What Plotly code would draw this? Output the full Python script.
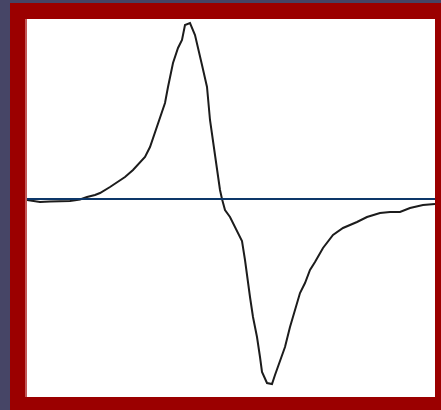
import plotly.graph_objects as go

# Signal trace (x: channel, y: amplitude relative to baseline)
px = [27, 40, 50, 60, 70, 80, 87, 95, 100, 110, 117, 125, 133, 140, 145, 150, 155, 160, 165, 168,
      173, 178, 182, 185, 190, 195, 198, 202, 207, 210, 215, 218, 220, 222, 225, 230, 235, 238, 242,
      245, 247, 250, 253, 257, 260, 262, 267, 272, 275, 280, 285, 290, 295, 300, 305, 310, 315, 323,
      333, 343, 357, 367, 380, 390, 400, 410, 423, 435]
py = [200, 202, 201.5, 201, 201, 199.5, 197, 195, 193, 187, 182, 177, 170, 163, 157, 147, 133, 117, 103, 87,
      63, 48, 40, 25, 23, 35, 47, 65, 87, 120, 155, 178, 190, 199, 210, 217, 227, 233, 241,
      260, 277, 297, 317, 337, 357, 372, 383, 384, 375, 360, 347, 327, 310, 293, 283, 270, 262, 248,
      235, 228, 222, 217, 213, 212, 212, 208, 205, 204]
x_vals = [v - 27 for v in px]
y_vals = [199 - v for v in py]

baseline_x = [0, 408]
baseline_y = [0, 0]

fig = go.Figure()
fig.add_trace(go.Scatter(x=x_vals, y=y_vals, mode="lines",
                         line=dict(color="#1c1c1c", width=2), hoverinfo="skip"))
fig.add_trace(go.Scatter(x=baseline_x, y=baseline_y, mode="lines",
                         line=dict(color="#0d3769", width=2), hoverinfo="skip"))

W, H = 441, 410
L, R, T, B = 27, 6, 19, 13
pw, ph = W - L - R, H - T - B

def px2paper_x(p):
    return (p - L) / pw

def px2paper_y(p):
    return (H - B - p) / ph

fig.update_layout(
    width=W, height=H,
    margin=dict(l=L, r=R, t=T, b=B),
    paper_bgcolor="#9b0000",
    plot_bgcolor="#ffffff",
    showlegend=False,
    xaxis=dict(range=[0, 408], visible=False, fixedrange=True),
    yaxis=dict(range=[-198, 180], visible=False, fixedrange=True),
    shapes=[
        dict(type="rect", xref="paper", yref="paper", layer="below",
             x0=px2paper_x(0), x1=px2paper_x(10), y0=px2paper_y(410), y1=px2paper_y(0),
             fillcolor="#464566", line=dict(width=0)),
        dict(type="rect", xref="paper", yref="paper", layer="below",
             x0=px2paper_x(0), x1=px2paper_x(441), y0=px2paper_y(3), y1=px2paper_y(0),
             fillcolor="#464566", line=dict(width=0)),
        dict(type="rect", xref="paper", yref="paper", layer="below",
             x0=px2paper_x(25), x1=px2paper_x(27), y0=px2paper_y(397), y1=px2paper_y(19),
             fillcolor="#c25858", line=dict(width=0)),
    ],
)

fig.write_html("out.html", config={"displayModeBar": False})
